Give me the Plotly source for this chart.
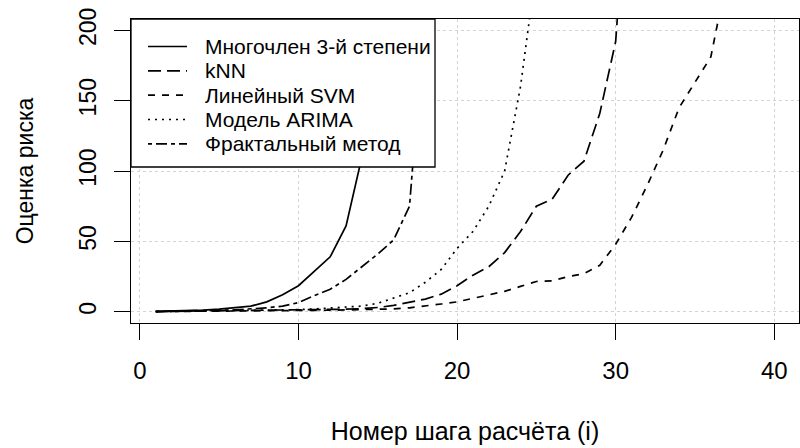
import plotly.graph_objects as go

steps = list(range(1, 41))

series_names = ["Многочлен 3-й степени", "kNN", "Линейный SVM", "Модель ARIMA", "Фрактальный метод"]

poly3 = [0.3, 0.5, 0.8, 1.2, 1.8, 2.7, 4.0, 7.0, 12.0, 18.5, 29.0, 39.0, 61.0, 110.0, 230.0]
knn = [0.1, 0.2, 0.3, 0.4, 0.5, 0.6, 0.7, 0.8, 0.9, 1.0, 1.2, 1.5, 1.8, 2.2, 3.0, 4.5, 6.5, 9.0,
       12.5, 18.5, 26.0, 32.0, 42.0, 57.0, 75.0, 80.0, 97.0, 107.0, 141.0, 192.0, 350.0]
svm = [0.1, 0.15, 0.2, 0.3, 0.4, 0.5, 0.6, 0.7, 0.8, 0.9, 1.0, 1.1, 1.3, 1.5, 1.7, 2.0, 2.8, 4.0,
       5.5, 7.0, 9.5, 12.0, 14.5, 18.0, 21.5, 22.0, 25.0, 27.0, 33.0, 48.0, 67.0, 90.0, 115.0,
       145.0, 163.0, 181.0, 237.0]
arima = [0.1, 0.2, 0.3, 0.4, 0.5, 0.6, 0.8, 1.0, 1.2, 1.5, 2.0, 2.5, 3.2, 4.0, 6.0, 10.0, 13.5,
         21.0, 30.0, 45.0, 57.0, 75.0, 100.0, 160.0, 245.0]
fractal = [0.2, 0.3, 0.5, 0.7, 1.0, 1.4, 2.0, 2.8, 4.0, 6.5, 11.5, 16.0, 23.0, 32.0, 41.0, 51.0,
           75.0, 215.0]

x_ticks = [0, 10, 20, 30, 40]
y_ticks = [0, 50, 100, 150, 200]

all_series = [poly3, knn, svm, arima, fractal]
dashes = ["solid", "13px,6px", "7px,7px", "2px,5px", "4px,4px,11px,4px"]

FONT = "Liberation Sans, Arial, sans-serif"

fig = go.Figure()
for name, vals, dash in zip(series_names, all_series, dashes):
    fig.add_trace(go.Scatter(
        x=steps[:len(vals)], y=vals, mode="lines", name=name,
        line=dict(color="black", width=1.7, dash=dash),
        showlegend=False,
    ))

W, H = 800, 448
ml, mr, mt, mb = 131, 1, 19, 125
pw, ph = W - ml - mr, H - mt - mb


def px_x(p):
    return (p - ml) / pw


def px_y(p):
    return (H - mb - p) / ph


# custom legend box (R-style)
shapes = [dict(type="rect", xref="paper", yref="paper",
               x0=px_x(131), x1=px_x(435), y0=px_y(167), y1=px_y(19),
               fillcolor="white", line=dict(color="black", width=1.3), layer="above")]
annotations = []
row_y = [46.5, 70.8, 95.2, 119.5, 143.8]
for name, dash, ry in zip(series_names, dashes, row_y):
    shapes.append(dict(type="line", xref="paper", yref="paper",
                       x0=px_x(148), x1=px_x(187), y0=px_y(ry), y1=px_y(ry),
                       line=dict(color="black", width=1.7, dash=dash), layer="above"))
    annotations.append(dict(xref="paper", yref="paper", x=px_x(203), y=px_y(ry),
                            xanchor="left", yanchor="middle", showarrow=False,
                            text=name, font=dict(family=FONT, size=21, color="black")))

axis_common = dict(
    showline=True, mirror=True, linecolor="black", linewidth=1.3,
    ticks="outside", ticklen=16, tickwidth=1.3, tickcolor="black",
    showgrid=True, gridcolor="#D3D3D3", griddash="dot", gridwidth=1.2,
    zeroline=False, automargin=False,
)

fig.update_layout(
    width=W, height=H,
    margin=dict(l=ml, r=mr, t=mt, b=mb),
    paper_bgcolor="white", plot_bgcolor="white",
    font=dict(family=FONT, color="black"),
    xaxis=dict(range=[-0.56, 41.56], tickvals=x_ticks,
               tickfont=dict(family=FONT, size=24, color="black"),
               title=dict(text="Номер шага расчёта (i)", font=dict(family=FONT, size=25), standoff=39),
               ticklabelstandoff=10, **axis_common),
    yaxis=dict(range=[-8, 208], tickvals=y_ticks, tickangle=-90,
               tickfont=dict(family=FONT, size=23, color="black"),
               title=dict(text="Оценка риска", font=dict(family=FONT, size=23), standoff=34),
               ticklabelstandoff=9, **axis_common),
    shapes=shapes, annotations=annotations,
)

fig.write_html("out.html")
